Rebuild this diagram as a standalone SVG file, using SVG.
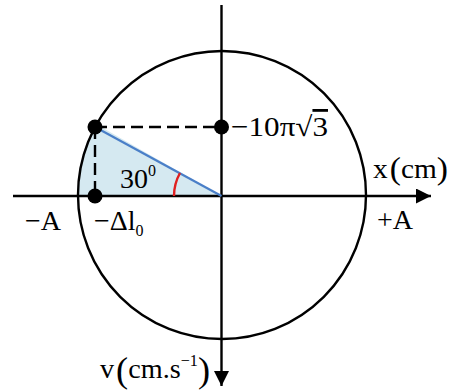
<svg xmlns="http://www.w3.org/2000/svg" width="458" height="390" viewBox="0 0 458 390">
<style>
.t{font-family:"Liberation Serif",serif;font-size:28px;fill:#000}
.ax{stroke:#000;stroke-width:2.4;fill:none}
.dash{stroke:#000;stroke-width:2.4;stroke-dasharray:12 6;fill:none}
</style>
<defs>
<marker id="ah" viewBox="0 0 10 10" refX="10" refY="5" markerWidth="15" markerHeight="15" markerUnits="userSpaceOnUse" orient="auto"><path d="M0,0 L10,5 L0,10 Z" fill="#000"/></marker>
</defs>
<rect width="458" height="390" fill="#fff"/>
<g id="sector">
<path d="M221.5,196 L96,124 A144,144 0 0 0 77.5,196 Z" fill="#d5e9f1"/>
</g>
<g id="circle"><circle cx="222" cy="195" r="144" class="ax"/></g>
<g id="connectors">
<line x1="13" y1="196" x2="431" y2="196" class="ax" marker-end="url(#ah)"/>
<line x1="221.5" y1="5" x2="221.5" y2="386" class="ax" marker-end="url(#ah)"/>
<line x1="95" y1="127" x2="221.5" y2="127" class="dash"/>
<line x1="95" y1="127" x2="95" y2="196" class="dash"/>
<line x1="95" y1="127" x2="221.5" y2="196" stroke="#4a7fc8" stroke-width="2.2"/>
<path d="M174,196 A47.5,47.5 0 0 1 180,173" stroke="#e02020" stroke-width="2.4" fill="none"/>
</g>
<g id="points">
<circle cx="95" cy="127" r="7.5" fill="#000"/>
<circle cx="95" cy="196" r="7.5" fill="#000"/>
<circle cx="221.5" cy="127" r="7.5" fill="#000"/>
</g>
<g id="labels">
<text class="t" x="120" y="188">30<tspan font-size="16" dy="-12">0</tspan></text>
<text class="t" x="25" y="230">−A</text>
<text class="t" x="94" y="230">−Δl<tspan font-size="16" dy="6">0</tspan></text>
<text class="t" x="231" y="136" textLength="97" lengthAdjust="spacingAndGlyphs">−10π√<tspan text-decoration="overline">3</tspan></text>
<text class="t" x="373" y="178" textLength="75" lengthAdjust="spacingAndGlyphs">x<tspan font-size="32" dy="1" dx="2">(</tspan><tspan dy="-1">cm</tspan><tspan font-size="32" dy="1">)</tspan></text>
<text class="t" x="377" y="229">+A</text>
<text class="t" x="100" y="378" textLength="110" lengthAdjust="spacingAndGlyphs">v<tspan font-size="36" dy="4" dx="2">(</tspan><tspan dy="-4">cm.s</tspan><tspan font-size="16" dy="-12">−1</tspan><tspan font-size="36" dy="16">)</tspan></text>
</g>
</svg>
